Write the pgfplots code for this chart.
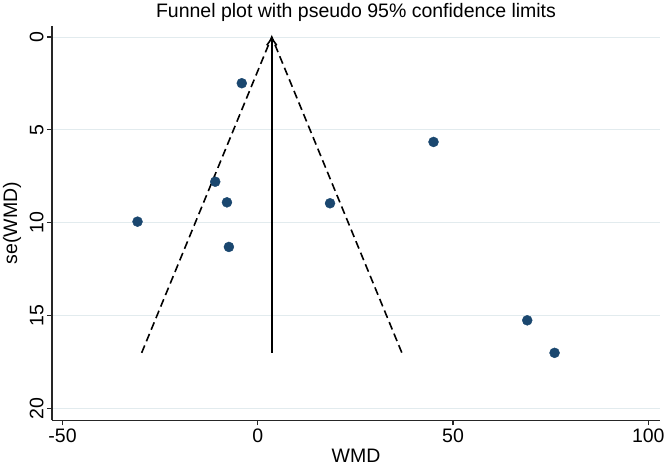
\documentclass[border=0pt]{standalone}
\usepackage{fontspec}
\setmainfont{Liberation Sans}
\usepackage{pgfplots}
\usepackage{pgfplotstable}
\pgfplotsset{compat=1.18}
\usetikzlibrary{arrows.meta}
\definecolor{statanavy}{RGB}{26,71,111}
\definecolor{gridc}{RGB}{226,235,238}

% study estimates: WMD vs its standard error
\pgfplotstableread{
wmd   se
-4.1  2.49
-10.9 7.79
-7.9  8.90
-30.8 9.94
-7.4  11.30
18.5  8.95
45.0  5.65
69.0  15.25
76.0  17.00
}\studies

\begin{document}
\begin{tikzpicture}
\begin{axis}[
  name=ax, scale only axis, width=608pt, height=394.5pt,
  xmin=-52.7, xmax=103, ymin=-0.6, ymax=20.63, y dir=reverse,
  axis x line*=bottom, axis y line*=left,
  axis line style={line width=1.3pt, black!85},
  xtick={-50,0,50,100}, ytick={0,5,10,15,20},
  ymajorgrids, grid style={gridc, line width=0.9pt},
  tick align=outside, major tick length=5pt,
  tick style={line width=1.2pt, black!85},
  /pgf/number format/assume math mode=true,
  ticklabel style={font=\fontsize{19.5}{22}\selectfont},
  yticklabel style={rotate=90, anchor=south},
  label style={font=\fontsize{19.5}{22}\selectfont},
  xlabel={WMD}, ylabel={se(WMD)},
  xlabel style={at={(axis description cs:0.5,-0.0905)}, anchor=center},
  ylabel style={at={(axis description cs:-0.0658,0.5)}, anchor=center, rotate=0},
  title={Funnel plot with pseudo 95\% confidence limits},
  title style={font=\fontsize{19.5}{22}\selectfont, at={(axis description cs:0.5,1)}, anchor=base, yshift=2pt},
]
\addplot[black, line width=1.6pt, dash pattern=on 8pt off 4.5pt] coordinates {(-29.74,17) (3.58,0) (36.90,17)};
\addplot[black, line width=1.6pt, -{Straight Barb[length=7pt,width=10pt]}] coordinates {(3.58,17) (3.58,0)};
\addplot[only marks, mark=*, mark size=5pt, color=statanavy] table[x=wmd, y=se] {\studies};
\end{axis}
\pgfresetboundingbox
\path (ax.south west) ++(-52pt,-45.7pt) rectangle ++(666pt,466pt);
\end{tikzpicture}
\end{document}
